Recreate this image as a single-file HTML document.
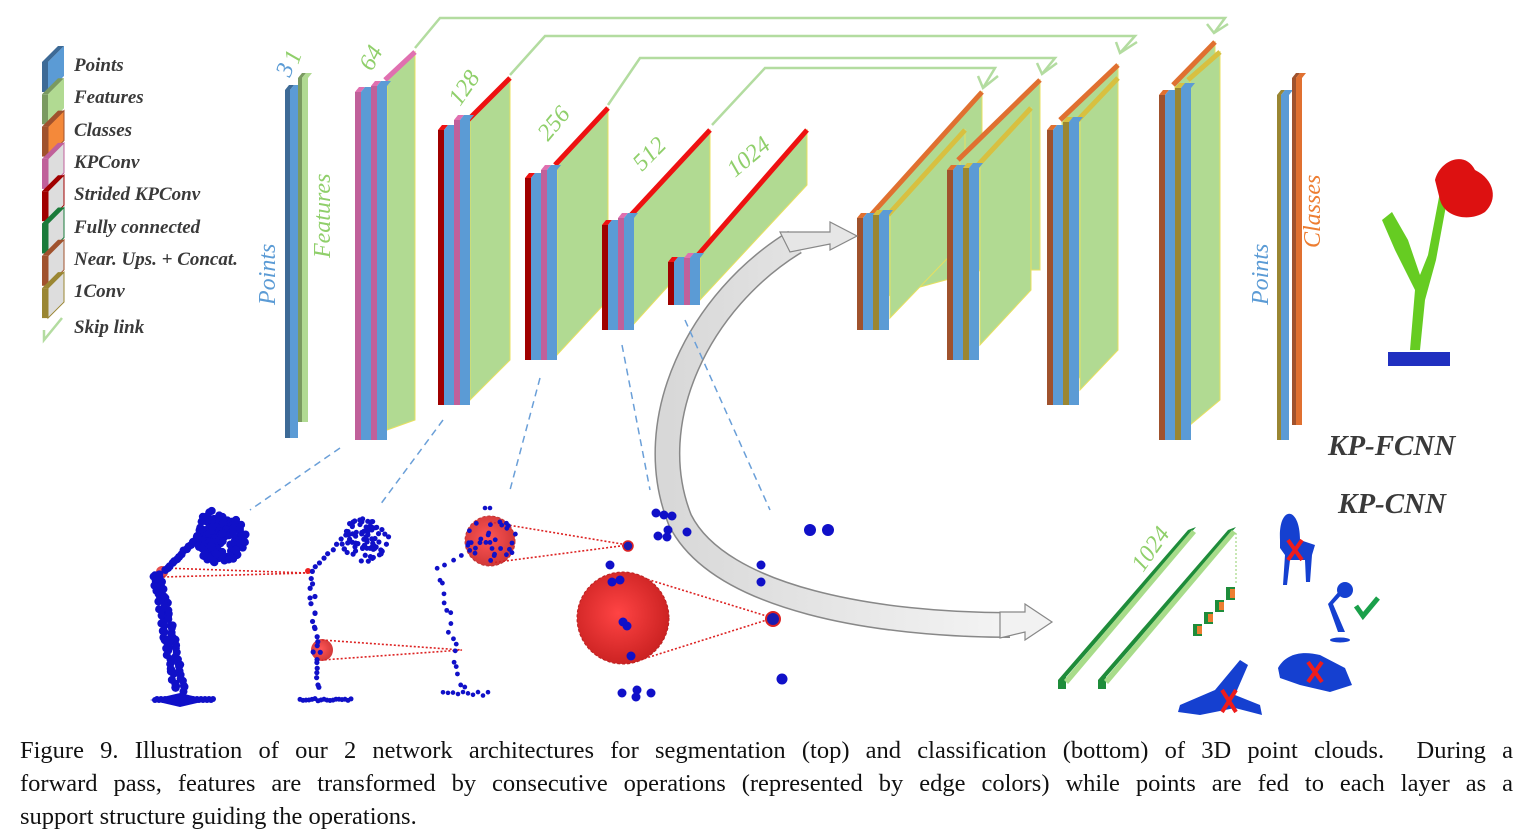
<!DOCTYPE html>
<html><head><meta charset="utf-8">
<style>
html,body{margin:0;padding:0;background:#fff;width:1533px;height:837px;overflow:hidden}
svg{position:absolute;left:0;top:0}
.cap{position:absolute;left:20px;top:734px;width:1493px;font-family:"Liberation Serif",serif;font-size:24.5px;line-height:33px;color:#111}
.cap div{text-align:justify;text-align-last:justify;white-space:nowrap}
.cap div.l{text-align-last:left}
</style></head><body>
<svg id="s" width="1533" height="730" viewBox="0 0 1533 730" xmlns="http://www.w3.org/2000/svg">
<defs>
<radialGradient id="rg" cx="0.45" cy="0.45" r="0.6"><stop offset="0" stop-color="#f44"/><stop offset="1" stop-color="#c82020"/></radialGradient>
<linearGradient id="ag" x1="0" y1="0" x2="1" y2="0"><stop offset="0" stop-color="#d8d8d8"/><stop offset="1" stop-color="#f4f4f4"/></linearGradient>
<linearGradient id="dg" x1="0" y1="0" x2="1" y2="0"><stop offset="0" stop-color="#fff"/><stop offset="0.2" stop-color="#ccc"/><stop offset="0.4" stop-color="#333"/><stop offset="1" stop-color="#333"/></linearGradient>
</defs>
<g id="g"></g>
<g fill="none" stroke="#b3dca0" stroke-width="2.5">
<polyline points="415,48 440,18 1225,18 1214,33"/><polyline points="1228,24 1214,33 1207,24"/>
<polyline points="510,75 545,36 1135,36 1120,53"/><polyline points="1137,42 1120,53 1116,42"/>
<polyline points="608,105 640,58 1055,58 1042,74"/><polyline points="1057,63 1042,74 1037,63"/>
<polyline points="712,125 765,68 995,68 983,88"/><polyline points="998,76 983,88 978,76"/>
</g>
<path d="M795,242 C700,300 640,420 680,520 C720,600 880,625 1010,625" fill="none" stroke="#888" stroke-width="26"/>
<path d="M795,242 C700,300 640,420 680,520 C720,600 880,625 1010,625" fill="none" stroke="url(#ag)" stroke-width="23"/>
<polygon points="780,232 830,232 830,222 857,236 830,250 830,244 790,252" fill="#e6e6e6" stroke="#888" stroke-width="1.2"/>
<polygon points="1000,612 1025,612 1025,604 1052,622 1025,640 1025,632 1000,638" fill="#f2f2f2" stroke="#888" stroke-width="1.2"/>
<g stroke="#6a9fd8" stroke-width="1.5" stroke-dasharray="7,5" fill="none">
<line x1="340" y1="448" x2="250" y2="510"/><line x1="443" y1="420" x2="380" y2="505"/>
<line x1="540" y1="378" x2="510" y2="490"/><line x1="622" y1="345" x2="650" y2="490"/>
<line x1="685" y1="320" x2="770" y2="510"/>
</g>
<g font-family="Liberation Serif,serif" font-style="italic" fill="#8fcf6a" font-size="24">
<text transform="translate(372,72) rotate(-62)">64</text>
<text transform="translate(460,107) rotate(-55)">128</text>
<text transform="translate(548,142) rotate(-50)">256</text>
<text transform="translate(642,172) rotate(-45)">512</text>
<text transform="translate(735,178) rotate(-40)">1024</text>
<text transform="translate(1143,573) rotate(-55)">1024</text>
<text x="290" y="78" transform="rotate(-70 290 78)" fill="#5b9bd5">3</text>
<text x="298" y="65" transform="rotate(-70 298 65)">1</text>
<text transform="translate(330,258) rotate(-90)">Features</text>
<text transform="translate(1320,248) rotate(-90)" fill="#ed7d31">Classes</text>
<text transform="translate(275,305) rotate(-90)" fill="#5b9bd5">Points</text>
<text transform="translate(1268,305) rotate(-90)" fill="#5b9bd5">Points</text>
</g>
<g font-family="Liberation Serif,serif" font-style="italic" font-weight="bold" fill="#3a3a3a" font-size="19">
<text x="74" y="71">Points</text><text x="74" y="103">Features</text><text x="74" y="136">Classes</text>
<text x="74" y="168">KPConv</text><text x="74" y="200">Strided KPConv</text><text x="74" y="233">Fully connected</text>
<text x="74" y="265">Near. Ups. + Concat.</text><text x="74" y="297">1Conv</text><text x="74" y="333">Skip link</text>
<text x="1328" y="455" font-size="29">KP-FCNN</text><text x="1338" y="513" font-size="29">KP-CNN</text>
</g>
<polyline points="62,318 44,340 44,330 M44,340 56,338" fill="none" stroke="#b3dca0" stroke-width="2.5"/>
<line x1="934" y1="476" x2="1462" y2="476" stroke="url(#dg)" stroke-width="4" stroke-dasharray="36,14"/>
<g stroke="#d22" stroke-width="1.6" stroke-dasharray="2,2" fill="none">
<polyline points="163,568 308,573 163,577"/><polyline points="322,640 462,650 322,660"/>
<polyline points="490,522 628,545 490,563"/><polyline points="640,577 773,618 640,660"/>
</g>
<circle cx="162" cy="572" r="6" fill="url(#rg)" opacity="0.85"/>
<circle cx="322" cy="650" r="11" fill="url(#rg)" opacity="0.9"/>
<circle cx="490" cy="541" r="25" fill="url(#rg)" stroke="#b22" stroke-dasharray="3,2" opacity="0.9"/>
<circle cx="623" cy="618" r="46" fill="url(#rg)" stroke="#b22" stroke-dasharray="3,2"/>
<circle cx="628" cy="546" r="5" fill="#1a1ab0" stroke="#d22" stroke-width="1.5"/>
<circle cx="773" cy="619" r="7" fill="#1a1ab0" stroke="#d22" stroke-width="2"/>
<circle cx="308" cy="571" r="3" fill="#e22"/>
<g id="pc" fill="#1010c8"></g>
<polygon points="1058,680 1188,530 1196,527 1066,677 1066,689 1058,689" fill="#1e8c3a"/>
<polygon points="1064,680 1192,530 1196,533 1068,684" fill="#a8dc8a"/>
<polygon points="1098,680 1228,530 1236,527 1106,677 1106,689 1098,689" fill="#1e8c3a"/>
<polygon points="1104,680 1232,530 1236,533 1108,684" fill="#a8dc8a"/>
<polyline points="1236,533 1236,585 M1195,638 1108,686" stroke="#8fcf6a" stroke-dasharray="2,2" fill="none"/>
<g fill="#1e8c3a"><rect x="1193" y="624" width="9" height="12"/><rect x="1204" y="612" width="9" height="12"/><rect x="1215" y="600" width="9" height="12"/><rect x="1226" y="587" width="9" height="13"/></g>
<g fill="#ed7d31"><rect x="1197" y="626" width="5" height="8"/><rect x="1208" y="614" width="5" height="8"/><rect x="1219" y="602" width="5" height="8"/><rect x="1230" y="589" width="5" height="9"/></g>
<g fill="#1540d0">
<path d="M1280,540 C1278,505 1300,505 1300,540 L1315,545 1312,555 1310,582 1306,582 1305,560 1290,560 1287,585 1283,585 1285,555 1280,548Z"/>
<circle cx="1345" cy="590" r="8"/><path d="M1340,590 L1328,604 1338,632 1345,632 1333,604 1344,592Z"/><ellipse cx="1340" cy="640" rx="10" ry="2.5"/>
<path d="M1278,668 C1285,655 1300,650 1320,655 L1345,668 1352,685 1330,692 1300,685 1280,678Z"/>
<path d="M1180,705 L1215,690 1240,660 1248,665 1235,695 1260,705 1262,715 1235,708 1200,715 1178,712Z"/>
</g>
<g stroke="#ee1c1c" stroke-width="4"><path d="M1288,540 L1302,560 M1302,540 L1288,560"/><path d="M1308,662 L1322,682 M1322,662 L1308,682"/><path d="M1222,690 L1236,712 M1236,690 L1222,712"/></g>
<path d="M1356,606 L1363,616 L1378,598" stroke="#1aa04a" stroke-width="5" fill="none"/>
<path d="M1410,350 L1415,290 1395,250 1382,220 1392,212 1408,240 1420,275 1428,255 1440,192 1448,195 1436,260 1425,300 1420,350Z" fill="#66cc22"/>
<path d="M1435,180 C1440,160 1465,150 1475,170 C1495,180 1498,200 1485,212 C1470,222 1445,218 1440,200Z" fill="#dd1111"/>
<rect x="1388" y="352" width="62" height="14" fill="#2030c0"/>
</svg>
<div class="cap"><div>Figure 9. Illustration of our 2 network architectures for segmentation (top) and classification (bottom) of 3D point clouds. &nbsp;During a</div><div>forward pass, features are transformed by consecutive operations (represented by edge colors) while points are fed to each layer as a</div><div class="l">support structure guiding the operations.</div></div>
<script>
const NS="http://www.w3.org/2000/svg",G=document.getElementById('g');
function P(pts,fill,stroke){const e=document.createElementNS(NS,'polygon');e.setAttribute('points',pts.map(p=>p.join(',')).join(' '));e.setAttribute('fill',fill);if(stroke){e.setAttribute('stroke',stroke);e.setAttribute('stroke-width','1');}G.appendChild(e);}
const C={blue:'#5b9bd5',green:'#b1da92',pink:'#c0609a',pinkL:'#e070b0',red:'#a00000',redL:'#ee1111',or:'#a0522d',orL:'#e07030',ol:'#9a8632',olL:'#d8c040',db:'#3d6a96',dg:'#7a9a60'};
function strip(x,w,y0,y1,col,top){P([[x,y0],[x+w,y0],[x+w,y1],[x,y1]],col);P([[x,y0],[x+4,y0-5],[x+w+4,y0-5],[x+w,y0]],top||col);}
function panel(L,R,tl,tr,bl,br,edge){P([[L,tl],[R,tr],[R,br],[L,bl]],C.green,'#e8e060');
 const e=document.createElementNS(NS,'line');e.setAttribute('x1',L-2);e.setAttribute('y1',tl);e.setAttribute('x2',R);e.setAttribute('y2',tr);e.setAttribute('stroke',edge);e.setAttribute('stroke-width','5');G.appendChild(e);}
function layer(x,y0,y1,e1,e1L,e2,e2L,pan,y0b){
 panel(...pan);
 strip(x,6,y0,y1,e1,e1L);strip(x+6,10,y0,y1,C.blue);
 strip(x+16,6,y0b||y0,y1,e2,e2L);strip(x+22,10,y0b||y0,y1,C.blue);
}
strip(285,5,90,438,C.db);strip(290,8,90,438,C.blue);strip(298,4,78,422,C.dg);strip(302,6,78,422,C.green);
layer(355,92,440,C.pink,C.pinkL,C.pink,C.pinkL,[387,415,80,52,430,420,C.pinkL],86);
layer(438,130,405,C.red,C.redL,C.pink,C.pinkL,[470,510,120,78,400,360,C.redL],120);
layer(525,178,360,C.red,C.redL,C.pink,C.pinkL,[557,608,165,108,355,300,C.redL],170);
layer(602,225,330,C.red,C.redL,C.pink,C.pinkL,[633,710,215,130,325,240,C.redL],218);
layer(668,262,305,C.red,C.redL,C.pink,C.pinkL,[700,807,255,130,300,185,C.redL],258);
panel(873,982,215,92,300,270,C.orL);
layer(857,218,330,C.or,C.orL,C.ol,C.olL,[890,965,215,130,318,240,C.olL],215);
panel(960,1040,160,80,270,270,C.orL);
layer(947,170,360,C.or,C.orL,C.ol,C.olL,[980,1031,165,108,345,290,C.olL],168);
panel(1062,1118,120,65,390,350,C.orL);
layer(1047,130,405,C.or,C.orL,C.ol,C.olL,[1080,1118,120,78,390,350,C.olL],122);
panel(1175,1215,85,42,425,400,C.orL);
layer(1159,95,440,C.or,C.orL,C.ol,C.olL,[1190,1220,80,52,425,400,C.olL],88);
strip(1277,4,95,440,C.ol);strip(1281,8,95,440,C.blue);strip(1292,4,78,425,C.or);strip(1296,6,78,425,C.orL);
const lc=[[C.db,C.blue],[C.dg,C.green],[C.or,'#f4893a'],[C.pink,'#ddd'],[C.red,'#ddd'],['#1a7a3a','#ddd'],[C.or,'#ddd'],[C.ol,'#ddd']];
lc.forEach((c,i)=>{const y=52+i*32.3;P([[42,y+10],[48,y+10],[48,y+40],[42,y+40]],c[0]);P([[48,y+10],[64,y-6],[64,y+24],[48,y+40]],c[1],c[0]==C.db||c[0]==C.dg?null:c[0]);P([[42,y+10],[58,y-6],[64,y-6],[48,y+10]],c[0]);});
const pc=document.getElementById('pc');
function d(x,y,r){const c=document.createElementNS(NS,'circle');c.setAttribute('cx',x);c.setAttribute('cy',y);c.setAttribute('r',r);pc.appendChild(c);}
let s=7;function rnd(){s=(s*9301+49297)%233280;return s/233280;}
function seg(x0,y0,x1,y1,n,r,j){for(let i=0;i<=n;i++){const t=i/n;d(x0+(x1-x0)*t+(rnd()-.5)*j,y0+(y1-y0)*t+(rnd()-.5)*j,r);}}
function blob(cx,cy,rx,ry,n,r){for(let i=0;i<n;i++){const a=rnd()*6.28,k=Math.sqrt(rnd());d(cx+Math.cos(a)*rx*k,cy+Math.sin(a)*ry*k,r);}}
seg(155,575,175,690,40,4,5);seg(160,575,185,690,40,4,4);seg(165,570,200,535,15,4,2);
blob(222,540,26,24,120,4);blob(212,522,12,12,30,4);
for(let i=0;i<30;i++)d(155+i*2,700-(i%2),3);P([[150,700],[180,693],[210,700],[180,707]],'#1010c8');
seg(310,580,320,690,22,2.6,7);seg(312,572,345,535,8,2.6,2);blob(365,540,24,22,80,2.6);
for(let i=0;i<18;i++)d(300+i*3,700+(rnd()-.5)*3,2.5);
seg(440,570,462,690,16,2.4,6);blob(492,540,26,22,30,2.4);seg(445,565,470,550,3,2.4,1);
for(let i=0;i<10;i++)d(443+i*5,694+(rnd()-.5)*4,2.3);d(490,508,2.3);d(485,508,2.3);
[[656,513],[664,515],[672,516],[658,536],[667,537],[668,530],[687,532],[610,565],[612,582],[623,622],[627,626],[620,580],[631,656],[622,693],[637,690],[651,693],[636,697],[761,565],[761,582]].forEach(p=>d(p[0],p[1],4.5));
d(810,530,6);d(828,530,6);d(782,679,5.5);
</script>
</body></html>
